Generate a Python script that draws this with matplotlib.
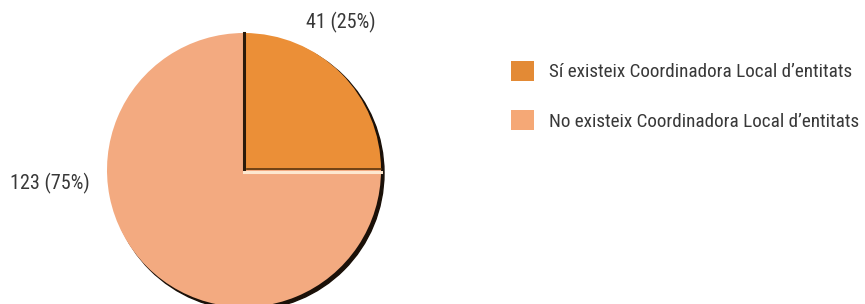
import matplotlib.pyplot as plt
from matplotlib.patches import Patch, Circle

plt.rcParams['font.family'] = ['Roboto Condensed', 'DejaVu Sans']

categories = ['Sí existeix Coordinadora Local d\u2019entitats',
              'No existeix Coordinadora Local d\u2019entitats']
counts = [41, 123]
slice_colors = ['#EB8F37', '#F3AA80']
legend_colors = ['#E38A35', '#F5A876']

W, H = 865, 304
cx, cy, r = 244, 170, 137  # pie centre / radius in pixels

fig = plt.figure(figsize=(W / 100, H / 100), dpi=100)
ax = fig.add_axes([0, 0, 1, 1])

# dark rim on the lower right side
ax.add_patch(Circle((3 / r, -3 / r), 1.0, color='#1a1008', zorder=0))

wedges, _ = ax.pie(counts, colors=slice_colors, startangle=90, counterclock=False,
                   radius=1, center=(0, 0), wedgeprops=dict(linewidth=0))

# edge lines of the small slice
ax.plot([0, 0], [0, 1], color='#2a1a0a', lw=2.2, zorder=5)
ax.plot([0, 1.0], [-0.012, -0.012], color='#fde8cf', lw=2.2, zorder=5)
ax.plot([0.02, 1.0], [0.01, 0.01], color='#5a3510', lw=1.2, zorder=5)

total = sum(counts)
labels = [f'{v} ({v / total:.0%})' for v in counts]
ax.text((341 - cx) / r, (cy - 22) / r, labels[0], ha='center', va='center',
        fontsize=14.5, color='#383838')
ax.text((50 - cx) / r, (cy - 183) / r, labels[1], ha='center', va='center',
        fontsize=14.5, color='#383838')

ax.set_xlim(-cx / r, (W - cx) / r)
ax.set_ylim(-(H - cy) / r, cy / r)
ax.set_aspect('auto')
ax.axis('off')

handles = [Patch(facecolor=c, edgecolor='none') for c in legend_colors]
fig.legend(handles, categories, loc='upper left',
           bbox_to_anchor=(511 / W, 1 - 61 / H), frameon=False,
           fontsize=13.8, handlelength=1.19, handleheight=1.19,
           handletextpad=0.78, labelspacing=1.52, borderpad=0,
           borderaxespad=0, labelcolor='#383838')

fig.savefig('out.png', dpi=100, facecolor='white')
